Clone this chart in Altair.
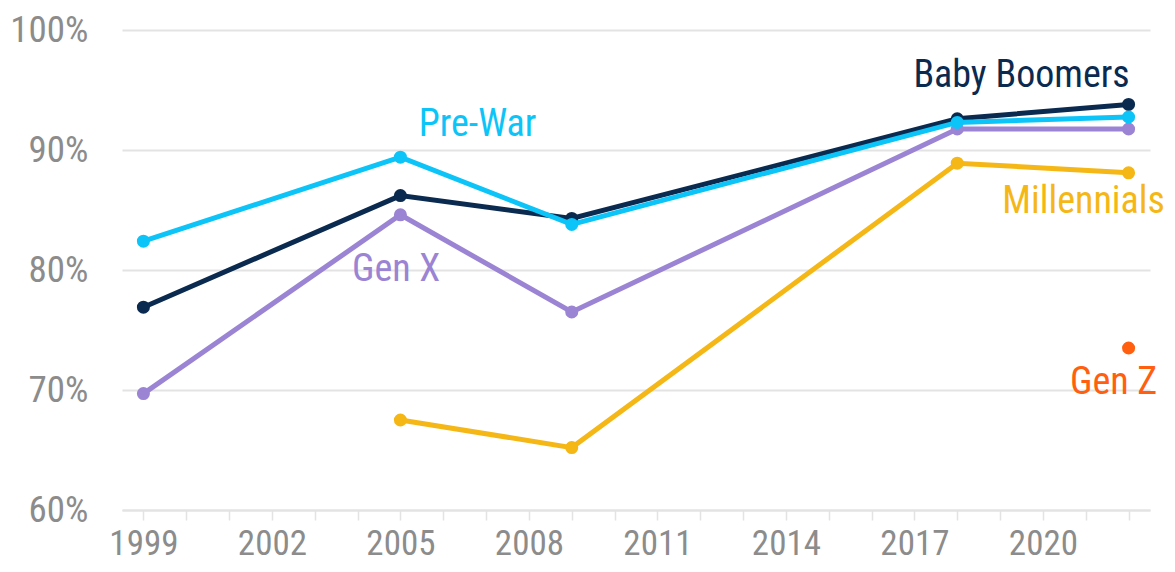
import altair as alt
import pandas as pd

years = [1999, 2005, 2009, 2018, 2022]
pre_war = [82.4, 89.4, 83.8, 92.3, 92.75]
baby_boomers = [76.9, 86.2, 84.3, 92.6, 93.8]
gen_x = [69.7, 84.6, 76.5, 91.75, 91.75]
millennials = [None, 67.5, 65.2, 88.9, 88.1]
gen_z = [None, None, None, None, 73.5]

series_names = ["Millennials", "Gen X", "Baby Boomers", "Pre-War", "Gen Z"]
series_vals = [millennials, gen_x, baby_boomers, pre_war, gen_z]
series_colors = ["#F5B716", "#9B84D3", "#0B2A4F", "#0DC4F8", "#FF5F0F"]

label_text = ["Pre-War", "Baby Boomers", "Gen X", "Millennials", "Gen Z"]
label_x = [2006.8, 2019.5, 2004.9, 2020.95, 2021.65]
label_y = [92.1, 96.2, 80.0, 85.7, 70.6]

FONT = "'Roboto Condensed', 'DejaVu Sans Condensed', Roboto, sans-serif"

rows = []
for name, vals in zip(series_names, series_vals):
    for yr, v in zip(years, vals):
        if v is not None:
            rows.append({"series": name, "year": yr, "value": v})
df = pd.DataFrame(rows)

lab = pd.DataFrame({"series": label_text, "x": label_x, "y": label_y, "text": label_text})

xscale = alt.Scale(domain=[1998.5, 2022.5], nice=False, zero=False)
yscale = alt.Scale(domain=[60, 100], nice=False, zero=False)
cscale = alt.Scale(domain=series_names, range=series_colors)

xaxis = alt.Axis(
    values=list(range(1999, 2023)), format="d",
    labelExpr="(datum.value - 1999) % 3 == 0 ? datum.label : ''",
    grid=False, domainColor="#e3e3e3", domainWidth=2, tickColor="#e3e3e3",
    tickSize=10, tickWidth=1.5, labelFontSize=35, labelColor="#8c8c8c",
    labelFont=FONT, labelPadding=6, title=None, labelOverlap=False,
)
yaxis = alt.Axis(
    values=[60, 70, 80, 90, 100], labelExpr="datum.value + '%'",
    grid=True, gridColor="#e3e3e3", gridWidth=2, domain=False, ticks=False,
    labelFontSize=37, labelColor="#8c8c8c", labelFont=FONT, labelPadding=34,
    title=None,
)

layers = []
for name in series_names:
    d = df[df.series == name]
    c = alt.Chart(d)
    enc = dict(
        x=alt.X("year:Q", scale=xscale, axis=xaxis),
        y=alt.Y("value:Q", scale=yscale, axis=yaxis),
        color=alt.Color("series:N", scale=cscale, legend=None),
    )
    if len(d) > 1:
        layers.append(c.mark_line(strokeWidth=5).encode(**enc))
    layers.append(c.mark_circle(size=170, opacity=1).encode(**enc))

text = alt.Chart(lab).mark_text(fontSize=38, font=FONT, align="center", baseline="middle").encode(
    x=alt.X("x:Q", scale=xscale),
    y=alt.Y("y:Q", scale=yscale),
    text="text:N",
    color=alt.Color("series:N", scale=cscale, legend=None),
)
layers.append(text)

chart = alt.layer(*layers).properties(
    width=1028, height=480,
    autosize=alt.AutoSizeParams(type="none"),
    padding={"left": 114, "top": 22, "right": 17, "bottom": 54},
).configure_view(stroke=None)

chart.save("out.html", embed_options={"renderer": "svg", "actions": False})
